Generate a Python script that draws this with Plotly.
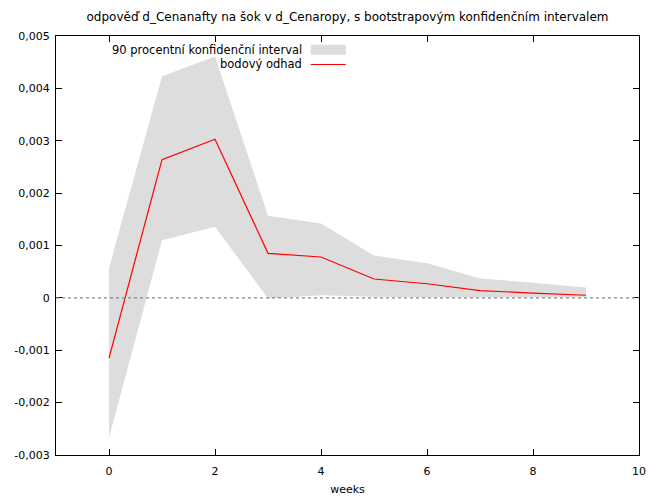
import plotly.graph_objects as go

weeks = [0, 1, 2, 3, 4, 5, 6, 7, 8, 9]
point_estimate = [-0.00115, 0.00264, 0.00303, 0.00085, 0.00078, 0.00036, 0.00027, 0.00014, 0.00009, 0.00005]
upper_90 = [0.00057, 0.00423, 0.00461, 0.00157, 0.00142, 0.00081, 0.00066, 0.00037, 0.00029, 0.00020]
lower_90 = [-0.00267, 0.00110, 0.00136, -0.00001, 0.00005, 0.00002, 0.00001, 0.00001, 0.00001, 0.00001]

y_tickvals = [-0.003, -0.002, -0.001, 0, 0.001, 0.002, 0.003, 0.004, 0.005]
y_ticktext = ["-0,003", "-0,002", "-0,001", "0", "0,001", "0,002", "0,003", "0,004", "0,005"]
x_tickvals = [0, 2, 4, 6, 8, 10]

title_text = "odpověď d_Cenanafty na šok v d_Cenaropy, s bootstrapovým konfidenčním intervalem"
legend_band = "90 procentní konfidenční interval"
legend_line = "bodový odhad"

FONT = "DejaVu Sans, Verdana, sans-serif"
BAND = "#dddddd"

fig = go.Figure()
fig.add_trace(go.Scatter(x=weeks, y=lower_90, mode="lines", line=dict(width=0, color=BAND),
                         showlegend=False, hoverinfo="skip"))
fig.add_trace(go.Scatter(x=weeks, y=upper_90, mode="lines", line=dict(width=0, color=BAND),
                         fill="tonexty", fillcolor=BAND, showlegend=False, hoverinfo="skip"))
fig.add_trace(go.Scatter(x=weeks, y=point_estimate, mode="lines", line=dict(width=1.2, color="#ff0000"),
                         showlegend=False))

# dotted zero line
fig.add_shape(type="line", xref="paper", x0=0, x1=1, yref="y", y0=0, y1=0,
              line=dict(color="#888888", width=1.2, dash="dot"), layer="above")

# legend (gnuplot style: right-aligned text, sample on right)
fig.add_annotation(xref="paper", yref="paper", x=0.425, y=0.967, xanchor="right", yanchor="middle",
                   text=legend_band, showarrow=False, font=dict(family=FONT, size=11.5, color="#000000"))
fig.add_annotation(xref="paper", yref="paper", x=0.425, y=0.932, xanchor="right", yanchor="middle",
                   text=legend_line, showarrow=False, font=dict(family=FONT, size=11.5, color="#000000"))
fig.add_shape(type="rect", xref="paper", yref="paper", x0=0.437, x1=0.497, y0=0.955, y1=0.979,
              fillcolor=BAND, line=dict(width=0))
fig.add_shape(type="line", xref="paper", yref="paper", x0=0.437, x1=0.497, y0=0.932, y1=0.932,
              line=dict(color="#ff0000", width=1.2))

axis_common = dict(showline=True, linecolor="#000000", linewidth=1, mirror="allticks",
                   ticks="inside", ticklen=6, tickcolor="#000000", showgrid=False, zeroline=False,
                   automargin=False,
                   tickfont=dict(family=FONT, size=11, color="#000000"))

fig.update_layout(
    width=649, height=498,
    margin=dict(l=56, r=10, t=36, b=43),
    paper_bgcolor="white", plot_bgcolor="white",
    title=dict(text=title_text, xref="paper", x=0.5, xanchor="center", y=0.966, yanchor="middle",
               font=dict(family=FONT, size=12, color="#000000")),
    xaxis=dict(range=[-1, 10], tickvals=x_tickvals, ticklabelstandoff=6,
               title=dict(text="weeks", font=dict(family=FONT, size=11, color="#000000"), standoff=8),
               **axis_common),
    yaxis=dict(range=[-0.003, 0.005], tickvals=y_tickvals, ticktext=y_ticktext, ticklabelstandoff=3,
               **axis_common),
    font=dict(family=FONT, size=11),
)

fig.write_html("out.html", config={"displayModeBar": False},
               post_script="document.body.style.margin='0';document.body.style.overflow='hidden';")
